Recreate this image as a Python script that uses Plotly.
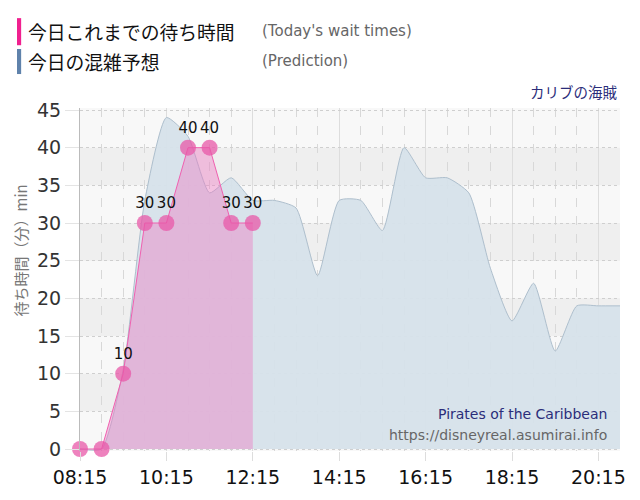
import plotly.graph_objects as go

DAY = "2024-01-01 "

# Prediction (30-minute steps)
pred_times = ["08:15", "08:45", "09:15", "09:45", "10:15", "10:45", "11:15", "11:45",
              "12:15", "12:45", "13:15", "13:45", "14:15", "14:45", "15:15", "15:45",
              "16:15", "16:45", "17:15", "17:45", "18:15", "18:45", "19:15", "19:45",
              "20:15", "20:45"]
pred_values = [0, 0, 10.5, 33, 44, 41.5, 34, 36,
               33, 33, 32, 23, 33, 33, 29, 40,
               36, 36, 34, 24, 17, 22, 13, 19,
               19, 19]

# Today's actual wait times
actual_times = ["08:15", "08:45", "09:15", "09:45", "10:15", "10:45", "11:15", "11:45", "12:15"]
actual_values = [0, 0, 10, 30, 30, 40, 40, 30, 30]
actual_labels = ["", "", "10", "30", "30", "40", "40", "30", "30"]

y_ticks = [0, 5, 10, 15, 20, 25, 30, 35, 40, 45]
band_ranges = [(5, 10), (15, 20), (25, 30), (35, 40)]

fig = go.Figure()

fig.add_trace(go.Scatter(
    x=[DAY + t for t in pred_times], y=pred_values,
    mode="lines", line=dict(color="#aebfcd", width=1, shape="spline", smoothing=0.55),
    fill="tozeroy", fillcolor="rgba(214,225,234,0.95)",
    hoverinfo="skip", showlegend=False,
))

fig.add_trace(go.Scatter(
    x=[DAY + t for t in actual_times], y=actual_values,
    mode="lines+markers+text",
    line=dict(color="#f060b0", width=1),
    fill="tozeroy", fillcolor="rgba(238,120,192,0.42)",
    marker=dict(size=16, color="rgba(232,88,168,0.75)", line=dict(width=0)),
    text=actual_labels, textposition="top center",
    textfont=dict(family="DejaVu Sans", size=15, color="#111"),
    cliponaxis=False, showlegend=False,
))

shapes = []
for lo, hi in band_ranges:
    shapes.append(dict(type="rect", xref="paper", yref="y", x0=0, x1=1, y0=lo, y1=hi,
                       fillcolor="#efefef", line=dict(width=0), layer="below"))

# legend bars
shapes.append(dict(type="rect", xref="paper", yref="paper", x0=-0.1167, x1=-0.109,
                   y0=1.183, y1=1.262, fillcolor="#f0208f", line=dict(width=0)))
shapes.append(dict(type="rect", xref="paper", yref="paper", x0=-0.1167, x1=-0.109,
                   y0=1.099, y1=1.172, fillcolor="#5f82ab", line=dict(width=0)))

cjk = "Noto Sans CJK JP"
annotations = [
    dict(text="今日これまでの待ち時間", x=-0.1, y=1.224, xref="paper", yref="paper",
         xanchor="left", yanchor="middle", showarrow=False,
         font=dict(family=cjk, size=18.8, color="#111")),
    dict(text="(Today's wait times)", x=0.333, y=1.224, xref="paper", yref="paper",
         xanchor="left", yanchor="middle", showarrow=False,
         font=dict(family="DejaVu Sans", size=15, color="#666")),
    dict(text="今日の混雑予想", x=-0.1, y=1.137, xref="paper", yref="paper",
         xanchor="left", yanchor="middle", showarrow=False,
         font=dict(family=cjk, size=18.8, color="#111")),
    dict(text="(Prediction)", x=0.333, y=1.137, xref="paper", yref="paper",
         xanchor="left", yanchor="middle", showarrow=False,
         font=dict(family="DejaVu Sans", size=15, color="#666")),
    dict(text="カリブの海賊", x=1.0, y=1.049, xref="paper", yref="paper",
         xanchor="right", yanchor="middle", showarrow=False,
         font=dict(family=cjk, size=14.5, color="#2b2d7a")),
    dict(text="Pirates of the Caribbean", x=0.98, y=0.1076, xref="paper", yref="paper",
         xanchor="right", yanchor="middle", showarrow=False,
         font=dict(family="DejaVu Sans", size=14, color="#2b2d7a")),
    dict(text="https://disneyreal.asumirai.info", x=0.98, y=0.0465, xref="paper", yref="paper",
         xanchor="right", yanchor="middle", showarrow=False,
         font=dict(family="DejaVu Sans", size=14, color="#666")),
    dict(text="待ち時間（分）min", x=-0.111, y=0.585, xref="paper", yref="paper",
         xanchor="center", yanchor="middle", showarrow=False, textangle=-90,
         borderpad=0,
         font=dict(family=cjk, size=15, color="#777")),
]

fig.update_layout(
    width=632, height=492,
    margin=dict(l=72, r=20, t=100, b=40),
    paper_bgcolor="white", plot_bgcolor="#f8f8f8",
    shapes=shapes, annotations=annotations,
    xaxis=dict(
        type="date",
        range=[DAY + "08:15", DAY + "20:45"],
        tick0=DAY + "08:15", dtick=2 * 3600 * 1000,
        tickformat="%H:%M",
        tickfont=dict(family="DejaVu Sans", size=19, color="#111"),
        ticks="outside", ticklen=9, tickcolor="#dddddd",
        showgrid=True, gridcolor="#dddddd", gridwidth=1,
        minor=dict(dtick=30 * 60 * 1000, tick0=DAY + "08:15", showgrid=True,
                   gridcolor="#d8d8d8", griddash="dash", gridwidth=1),
        zeroline=False, showline=False, fixedrange=True,
    ),
    yaxis=dict(
        range=[-0.265, 45.265],
        tickvals=y_ticks,
        tickfont=dict(family="DejaVu Sans", size=19, color="#333"),
        ticks="outside", ticklen=14, tickcolor="#e4e4e4",
        showgrid=True, gridcolor="#cfcfcf", griddash="dot", gridwidth=1,
        zeroline=False, showline=True, linecolor="#bbbbbb", linewidth=1,
        fixedrange=True,
    ),
)

fig.write_html("out.html")
